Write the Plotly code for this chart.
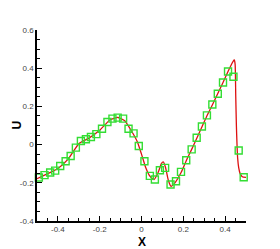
import plotly.graph_objects as go

# red solid curve (reference solution)
line_x = [-0.5, -0.45, -0.4, -0.35, -0.3, -0.25, -0.2, -0.15, -0.113, -0.08, -0.05, -0.02,
          0.0, 0.02, 0.04, 0.06, 0.08, 0.095, 0.104, 0.115, 0.128, 0.141, 0.16, 0.19,
          0.215, 0.24, 0.265, 0.29, 0.315, 0.34, 0.365, 0.39, 0.415, 0.435, 0.444,
          0.448, 0.451, 0.454, 0.457, 0.46, 0.465, 0.472, 0.482, 0.5]
line_y = [-0.178, -0.153, -0.125, -0.075, 0.005, 0.035, 0.075, 0.13, 0.142, 0.125, 0.075, 0.015,
          -0.05, -0.12, -0.165, -0.183, -0.145, -0.10, -0.091, -0.12, -0.185, -0.218, -0.2, -0.145,
          -0.082, -0.025, 0.035, 0.095, 0.155, 0.21, 0.268, 0.325, 0.385, 0.43, 0.445,
          0.42, 0.25, 0.1, 0.0, -0.07, -0.12, -0.152, -0.168, -0.172]

# green square markers (numerical solution)
mark_x = [-0.491, -0.464, -0.437, -0.413, -0.389, -0.363, -0.339, -0.314, -0.290, -0.266,
          -0.242, -0.216, -0.189, -0.163, -0.139, -0.114, -0.088, -0.062, -0.038, -0.013,
          0.014, 0.040, 0.064, 0.088, 0.113, 0.139, 0.165, 0.189, 0.214, 0.240,
          0.264, 0.289, 0.313, 0.339, 0.365, 0.390, 0.414, 0.440, 0.465, 0.489]
mark_y = [-0.172, -0.160, -0.146, -0.136, -0.112, -0.087, -0.060, -0.016, 0.019, 0.028,
          0.040, 0.055, 0.083, 0.118, 0.136, 0.141, 0.136, 0.083, 0.059, -0.007,
          -0.087, -0.164, -0.183, -0.134, -0.122, -0.209, -0.192, -0.143, -0.082, -0.025,
          0.036, 0.095, 0.153, 0.210, 0.266, 0.325, 0.383, 0.355, -0.031, -0.171]

x_ticks = [-0.4, -0.2, 0, 0.2, 0.4]
x_labels = ["-0.4", "-0.2", "0", "0.2", "0.4"]
y_ticks = [-0.4, -0.2, 0, 0.2, 0.4, 0.6]
y_labels = ["-0.4", "-0.2", "0", "0.2", "0.4", "0.6"]

fig = go.Figure()
fig.add_trace(go.Scatter(x=line_x, y=line_y, mode="lines",
                         line=dict(color="#dd1010", width=1.3, shape="spline", smoothing=0.5),
                         showlegend=False, hoverinfo="skip", cliponaxis=True))
fig.add_trace(go.Scatter(x=mark_x, y=mark_y, mode="markers",
                         marker=dict(symbol="square-open", size=7, color="#33dd33",
                                     line=dict(width=1.4, color="#33dd33")),
                         showlegend=False, hoverinfo="skip", cliponaxis=False))

font_family = "Liberation Sans, Arial, sans-serif"
tickfont = dict(family=font_family, size=8, color="#444444")
fig.update_xaxes(range=[-0.5, 0.5], showgrid=False, zeroline=False, automargin=False,
                 showline=True, linecolor="black", linewidth=1.5,
                 ticks="inside", ticklen=5, tickwidth=1, tickcolor="black",
                 tickvals=x_ticks, ticktext=x_labels, tickfont=tickfont,
                 minor=dict(dtick=0.05, tick0=0, ticks="inside", ticklen=3, tickcolor="black", showgrid=False))
fig.update_yaxes(range=[-0.4, 0.6], showgrid=False, zeroline=False, automargin=False,
                 showline=True, linecolor="black", linewidth=1.5,
                 ticks="inside", ticklen=5, tickwidth=1, tickcolor="black",
                 tickvals=y_ticks, ticktext=y_labels, tickfont=tickfont,
                 minor=dict(dtick=0.05, tick0=0, ticks="inside", ticklen=3, tickcolor="black", showgrid=False))
title_font = dict(family=font_family, size=12, color="black")
fig.add_annotation(text="<b>X</b>", xref="paper", yref="paper", x=0.5, y=-0.062,
                   xanchor="center", yanchor="top", showarrow=False, font=title_font)
fig.add_annotation(text="<b>U</b>", xref="paper", yref="paper", x=-0.1, y=0.5,
                   xanchor="center", yanchor="middle", textangle=-90, showarrow=False, font=title_font)
fig.update_layout(width=280, height=249, margin=dict(l=37, r=34, t=30, b=28),
                  paper_bgcolor="white", plot_bgcolor="white")
fig.write_html("out.html", config={"displayModeBar": False},
               post_script="document.body.style.margin='0';document.body.style.overflow='hidden';")
